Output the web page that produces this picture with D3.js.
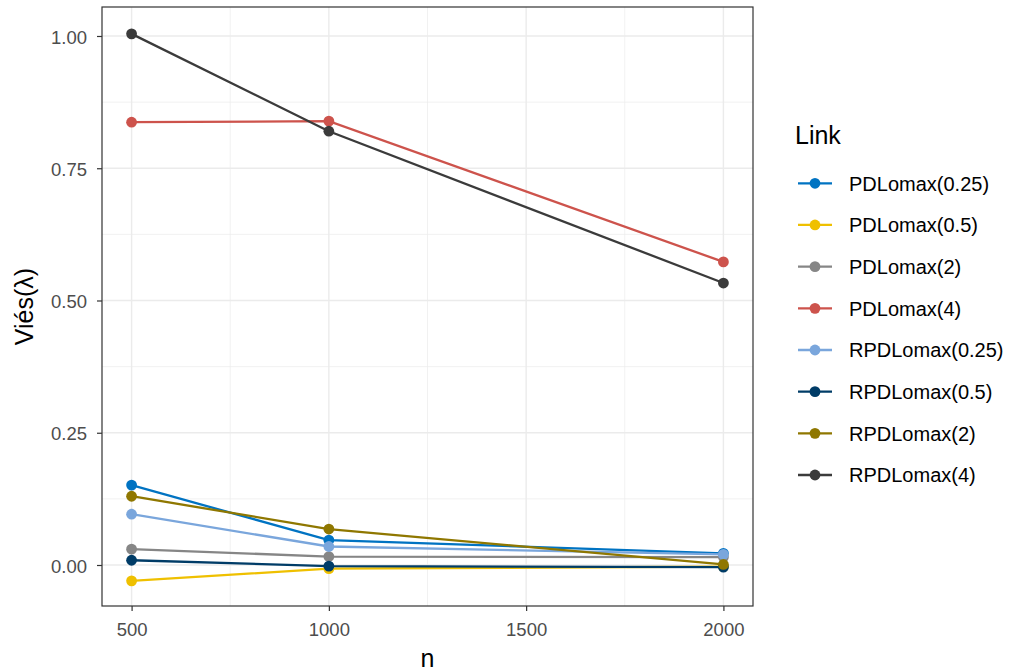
<!DOCTYPE html>
<html><head><meta charset="utf-8">
<script src="https://cdn.jsdelivr.net/npm/d3@7"></script>
<style>body{margin:0;background:#fff;font-family:"Liberation Sans",Arial,sans-serif;}</style>
</head><body><svg id="c" width="1014" height="671"></svg>
<script>
const nValues = [500, 1000, 2000];
const seriesNames = ["PDLomax(0.25)","PDLomax(0.5)","PDLomax(2)","PDLomax(4)","RPDLomax(0.25)","RPDLomax(0.5)","RPDLomax(2)","RPDLomax(4)"];
const seriesColors = ["#0073C2","#EFC000","#868686","#CD534C","#7AA6DC","#003C67","#8F7700","#3B3B3B"];
const PDLomax025 = [0.151, 0.047, 0.022];
const PDLomax05 = [-0.030, -0.007, -0.003];
const PDLomax2 = [0.030, 0.016, 0.015];
const PDLomax4 = [0.837, 0.839, 0.573];
const RPDLomax025 = [0.096, 0.035, 0.020];
const RPDLomax05 = [0.009, -0.002, -0.004];
const RPDLomax2 = [0.130, 0.068, 0.001];
const RPDLomax4 = [1.004, 0.820, 0.533];
const seriesValues = [PDLomax025, PDLomax05, PDLomax2, PDLomax4, RPDLomax025, RPDLomax05, RPDLomax2, RPDLomax4];
const yTicks = [0, 0.25, 0.5, 0.75, 1.0];
const yMinor = [0.125, 0.375, 0.625, 0.875];
const xTicks = [500, 1000, 1500, 2000];
const xMinor = [750, 1250, 1750];

const FONT = "Liberation Sans, Arial, sans-serif";
const svg = d3.select("#c");
const L = 102, R = 753, T = 7, B = 606;
const x = d3.scaleLinear().domain([425, 2075]).range([L, R]);
const y = d3.scaleLinear().domain([-0.0775, 1.0548]).range([B, T]);

const g = svg.append("g");
g.selectAll(".ymin").data(yMinor).join("line").attr("x1",L).attr("x2",R).attr("y1",d=>y(d)).attr("y2",d=>y(d)).attr("stroke","#EBEBEB").attr("stroke-width",0.7);
g.selectAll(".xmin").data(xMinor).join("line").attr("y1",T).attr("y2",B).attr("x1",d=>x(d)).attr("x2",d=>x(d)).attr("stroke","#EBEBEB").attr("stroke-width",0.7);
g.selectAll(".ymaj").data(yTicks).join("line").attr("x1",L).attr("x2",R).attr("y1",d=>y(d)).attr("y2",d=>y(d)).attr("stroke","#EBEBEB").attr("stroke-width",1.4);
g.selectAll(".xmaj").data(xTicks).join("line").attr("y1",T).attr("y2",B).attr("x1",d=>x(d)).attr("x2",d=>x(d)).attr("stroke","#EBEBEB").attr("stroke-width",1.4);

const line = d3.line().x((d,i)=>x(nValues[i])).y(d=>y(d));
seriesValues.forEach((vals,k)=>{
  svg.append("path").datum(vals).attr("d",line).attr("fill","none").attr("stroke",seriesColors[k]).attr("stroke-width",2.3);
  svg.selectAll(null).data(vals).join("circle").attr("cx",(d,i)=>x(nValues[i])).attr("cy",d=>y(d)).attr("r",5.4).attr("fill",seriesColors[k]);
});

svg.append("rect").attr("x",L).attr("y",T).attr("width",R-L).attr("height",B-T).attr("fill","none").attr("stroke","#333333").attr("stroke-width",1.2);

// axes
const yAxis = svg.append("g").attr("transform",`translate(${L},0)`).call(d3.axisLeft(y).tickValues(yTicks).tickFormat(d3.format(".2f")).tickSize(5).tickPadding(10));
const xAxis = svg.append("g").attr("transform",`translate(0,${B})`).call(d3.axisBottom(x).tickValues(xTicks).tickFormat(d3.format("d")).tickSize(5).tickPadding(12));
[yAxis,xAxis].forEach(a=>{
  a.attr("font-size",null).attr("font-family",null);
  a.select(".domain").remove();
  a.selectAll(".tick line").attr("stroke","#333333").attr("stroke-width",1.2);
  a.selectAll(".tick text").attr("fill","#4D4D4D").style("font-size","18.5px").style("font-family",FONT);
});
yAxis.selectAll(".tick text").attr("dy","0.38em");

svg.append("text").attr("x",(L+R)/2).attr("y",667).attr("text-anchor","middle").style("font-size","25px").style("font-family",FONT).attr("fill","#000").text("n");
svg.append("text").attr("transform",`translate(33,${(T+B)/2}) rotate(-90)`).attr("text-anchor","middle").style("font-size","25px").style("font-family",FONT).attr("fill","#000").text("Viés(λ)");

// legend
svg.append("text").attr("x",795).attr("y",144).style("font-size","25px").style("font-family",FONT).attr("fill","#000").text("Link");
seriesNames.forEach((name,k)=>{
  const cy = 183.3 + k*41.67;
  svg.append("line").attr("x1",798).attr("x2",832).attr("y1",cy).attr("y2",cy).attr("stroke",seriesColors[k]).attr("stroke-width",2.3);
  svg.append("circle").attr("cx",815).attr("cy",cy).attr("r",5.4).attr("fill",seriesColors[k]);
  svg.append("text").attr("x",849).attr("y",cy+7.5).style("font-size","20px").style("font-family",FONT).attr("fill","#000").text(name);
});
</script></body></html>
